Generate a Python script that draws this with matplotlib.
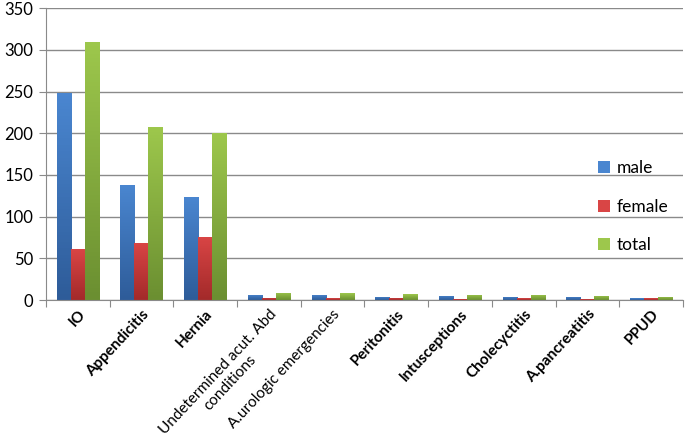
import numpy as np
import matplotlib.pyplot as plt
from matplotlib.colors import LinearSegmentedColormap

categories = ['IO', 'Appendicitis', 'Hernia', 'Undetermined acut. Abd\nconditions',
              'A.urologic emergencies', 'Peritonitis', 'Intusceptions', 'Cholecyctitis',
              'A.pancreatitis', 'PPUD']
male = [248, 138, 124, 6, 6, 4, 5, 4, 4, 2]
female = [61, 69, 76, 3, 2, 3, 1, 2, 1, 2]
total = [309, 207, 200, 9, 8, 7, 6, 6, 5, 4]
bold_labels = [True, True, True, False, False, True, True, True, True, True]

plt.rcParams['font.family'] = ['Lato', 'DejaVu Sans']

fig = plt.figure(figsize=(6.85, 4.48), dpi=100)
ax = fig.add_axes([0.067, 0.330, 0.930, 0.652])

series = [('male', male, '#4A86D0', '#2E5C99'),
          ('female', female, '#D94545', '#A32A2A'),
          ('total', total, '#9DC74C', '#6B8F31')]

x = np.arange(len(categories))
w = 0.22
grad = np.linspace(0, 1, 64).reshape(-1, 1)
handles = []
for i, (name, vals, top, bottom) in enumerate(series):
    cmap = LinearSegmentedColormap.from_list(name, [bottom, top])
    bars = ax.bar(x + (i - 1) * w, vals, w, color=top, label=name, zorder=2)
    handles.append(bars)
    for b in bars:
        bx, by = b.get_x(), b.get_y()
        im = ax.imshow(grad, extent=(bx, bx + b.get_width(), by, by + b.get_height()),
                       origin='lower', cmap=cmap, aspect='auto', zorder=2.1)
        im.set_clip_path(b)

ax.set_xlim(-0.5, len(categories) - 0.5)
ax.set_ylim(0, 350)
ax.set_yticks(range(0, 351, 50))
ax.yaxis.grid(True, color='#8a8a8a', linewidth=1)
ax.set_axisbelow(True)

ax.set_xticks(np.arange(-0.5, len(categories), 1), minor=False)
ax.set_xticklabels([])
ax.set_xticks(x, minor=True)
ax.set_xticklabels(categories, minor=True)
ax.tick_params(axis='x', which='minor', length=0, pad=5)
ax.tick_params(axis='x', which='major', length=5, color='#8a8a8a')
ax.tick_params(axis='y', length=5, color='#8a8a8a', labelsize=12, pad=4)
for lab, b in zip(ax.get_xticklabels(minor=True), bold_labels):
    lab.set_rotation(47)
    lab.set_ha('right')
    lab.set_rotation_mode('anchor')
    lab.set_fontsize(11)
    lab.set_fontweight('bold' if b else 'normal')
    if not b:
        lab.set_multialignment('center')

for s in ['top', 'right']:
    ax.spines[s].set_visible(False)
for s in ['left', 'bottom']:
    ax.spines[s].set_color('#8a8a8a')

ax.legend(handles=handles, loc='center left', bbox_to_anchor=(0.842, 0.32),
          frameon=False, fontsize=12.5, handlelength=0.7, handleheight=0.7,
          labelspacing=1.3, handletextpad=0.4)

fig.savefig('out.png', dpi=100)
